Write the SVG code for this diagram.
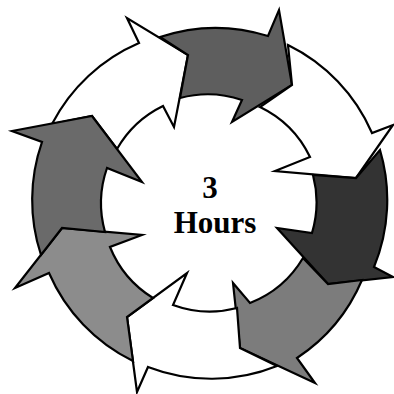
<svg xmlns="http://www.w3.org/2000/svg" width="394" height="394" viewBox="0 0 394 394">
<style>
.arr{stroke:#000;stroke-width:2.2;stroke-linejoin:miter;stroke-miterlimit:10}
.w{fill:#fff}
.g1{fill:#5e5e5e}
.g2{fill:#333}
.g3{fill:#6a6a6a}
.g4{fill:#7c7c7c}
.g5{fill:#8c8c8c}
.lbl{font-family:"Liberation Serif","Times New Roman",serif;font-weight:bold;font-size:31px;fill:#000;text-anchor:middle}
</style>
<rect width="394" height="394" fill="#fff"/>
<g id="connectors">
<g id="arrow1"><path class="arr w" d="M52,124 A176,176 0 0 1 139,43 L127,18 L188,55 L174,127 L163,106 A107,107 0 0 0 117,149 L92,116 Z"/></g>
<g id="arrow2"><path class="arr g1" d="M160,37 A176,176 0 0 1 268,36 L279,10 L292,85 L232,122 L242,100 A107,107 0 0 0 180,98 L188,55 Z"/></g>
<g id="arrow3"><path class="arr w" d="M288,45 A176,176 0 0 1 372,133 L393,125 L356,178 L275,171 L310,157 A107,107 0 0 0 260,107 L292,85 Z"/></g>
<g id="arrow4"><path class="arr g2" d="M380,150 A176,176 0 0 1 374,267 L393,277 L328,284 L277,228 L312,233 A107,107 0 0 0 313,175 L356,178 Z"/></g>
<g id="arrow5"><path class="arr g4" d="M362,280 A176,176 0 0 1 297,358 L315,383 L240,348 L233,283 L250,303 A107,107 0 0 0 303,258 L328,284 Z"/></g>
<g id="arrow6"><path class="arr w" d="M277,366 A176,176 0 0 1 148,367 L137,392 L127,317 L187,273 L173,305 A107,107 0 0 0 237,308 L240,348 Z"/></g>
<g id="arrow7"><path class="arr g5" d="M133,361 A176,176 0 0 1 49,273 L15,288 L62,228 L142,235 L110,247 A107,107 0 0 0 153,298 L127,317 Z"/></g>
<g id="arrow8"><path class="arr g3" d="M41,255 A176,176 0 0 1 42,142 L12,131 L92,116 L142,182 L107,168 A107,107 0 0 0 105,232 L62,228 Z"/></g>
</g>
<g id="center">
<text class="lbl" x="210" y="198">3</text>
<text class="lbl" x="215" y="233">Hours</text>
</g>
</svg>
